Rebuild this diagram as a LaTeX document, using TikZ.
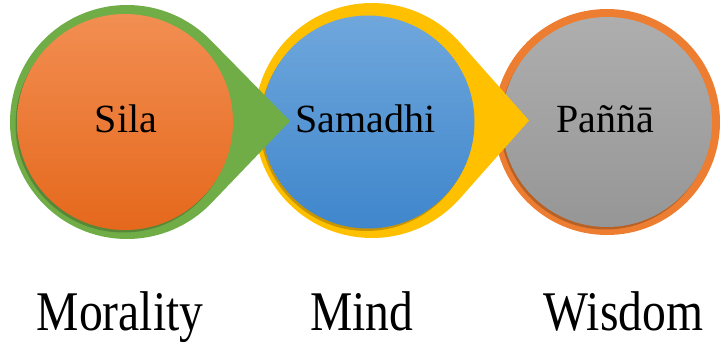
\documentclass[tikz,border=0pt]{standalone}
\usepackage{fontspec}
\setmainfont{Liberation Serif}
\newfontfamily\bottomfont[FakeStretch=0.85]{Liberation Serif}
\usetikzlibrary{calc}
\definecolor{cgreen}{HTML}{70AD47}
\definecolor{cyellow}{HTML}{FFC000}
\definecolor{cring}{HTML}{ED7D31}
\definecolor{otop}{HTML}{F28E52}
\definecolor{obot}{HTML}{E5681C}
\definecolor{btop}{HTML}{6FA7DC}
\definecolor{bbot}{HTML}{3F86CC}
\definecolor{gtop}{HTML}{AEAEAE}
\definecolor{gbot}{HTML}{969696}
\tikzset{
  disc/.style={circle, inner sep=0pt, draw=none},
  shadowdisc/.style={disc, fill=black, opacity=0.22},
  circtext/.style={anchor=base, inner sep=0pt, font=\fontsize{40}{48}\selectfont},
  bottomtext/.style={anchor=base, inner sep=0pt, font=\bottomfont\fontsize{56}{64}\selectfont},
}
\begin{document}
\begin{tikzpicture}[x=1pt,y=-1pt]
\useasboundingbox (0,0) rectangle (722,343);
\fill[white] (0,0) rectangle (722,343);
% third: panna
\coordinate (c3) at (607,122);
\node[disc, fill=cring, minimum size=226pt] (ring3) at (c3) {};
\node[shadowdisc, minimum size=210pt] (sh3) at (605.5,124.5) {};
\node[disc, top color=gtop, bottom color=gbot, minimum size=210pt] (panna) at (c3) {};
% second: samadhi
\coordinate (c2) at (372,120.5);
\coordinate (t2) at (529,120.5);
\fill[cyellow] (t2) -- ($(c2)+(42:117.5)$) arc[start angle=42, end angle=318, radius=117.5] -- cycle;
\node[shadowdisc, minimum size=213pt] (sh2) at (366.5,124.5) {};
\node[disc, top color=btop, bottom color=bbot, minimum size=213pt] (samadhi) at (368,122) {};
% first: sila
\coordinate (c1) at (127,122);
\coordinate (t1) at (290,121);
\fill[cgreen] (t1) -- ($(c1)+(44:117)$) arc[start angle=44, end angle=316, radius=117] -- cycle;
\node[shadowdisc, minimum size=216pt] (sh1) at (123.5,124.5) {};
\node[disc, top color=otop, bottom color=obot, minimum size=216pt] (sila) at (125,122) {};
% texts
\node[circtext] (tsila) at (126,132) {Sila};
\node[circtext] (tsamadhi) at (365.5,132) {Samadhi};
\node[circtext] (tpanna) at (605,132) {Paññā};
\node[bottomtext] (morality) at (120,330) {Morality};
\node[bottomtext] (mind) at (362,330) {Mind};
\node[bottomtext] (wisdom) at (623.5,330) {Wisdom};
\end{tikzpicture}
\end{document}
